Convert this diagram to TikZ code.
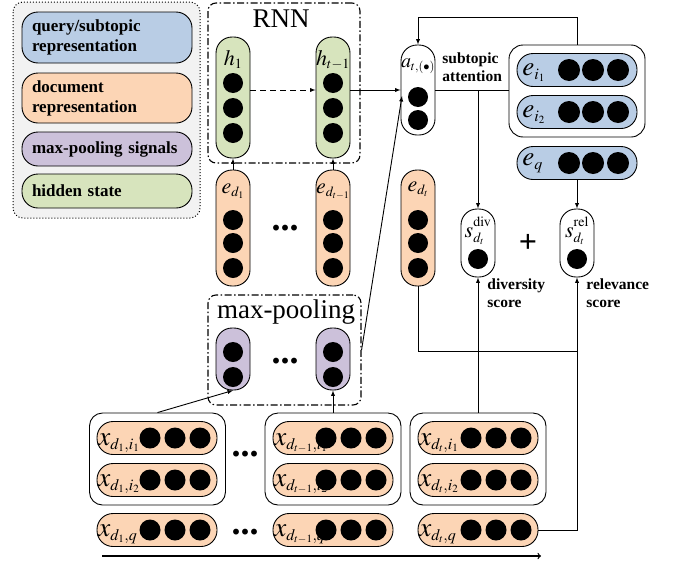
\documentclass[tikz,border=0pt]{standalone}
\usepackage{amsmath}
\usepackage{mathptmx}
\usepackage{fontspec}
\setmainfont{Liberation Serif}
\usepackage{tikz}
\DeclareMathSizes{27}{27}{16}{11}
\DeclareMathSizes{22}{22}{14}{10}
\DeclareMathSizes{20}{20}{12.5}{8.5}

\definecolor{qblue}{HTML}{B9CDE5}
\definecolor{dorange}{HTML}{FCD5B5}
\definecolor{mpurple}{HTML}{CCC1DA}
\definecolor{hgreen}{HTML}{D7E4BD}
\definecolor{keygray}{HTML}{F2F2F2}

\begin{document}
\begin{tikzpicture}[x=1pt, y=-1pt, line width=0.9pt, >=latex,
  vpill/.style={draw, rounded corners=16pt, minimum width=34pt, inner sep=0pt},
  hpill/.style={draw, fill=dorange, rounded corners=16pt, minimum width=120pt, minimum height=33pt, inner sep=0pt},
  grpbox/.style={draw, fill=white, rounded corners=13pt, minimum width=136pt, minimum height=92pt, inner sep=0pt},
  keybox/.style={draw, rounded corners=16pt, minimum width=170pt, text width=150pt, inner xsep=10pt, align=left, font=\fontsize{17}{20}\selectfont\bfseries},
  modbox/.style={draw, rounded corners=8pt, line width=1.1pt, inner sep=0pt, dash pattern=on 7pt off 2.5pt on 1.5pt off 2.5pt},
  vlab/.style={anchor=base, inner sep=0pt, font=\fontsize{22}{24}\selectfont},
  hlab/.style={anchor=base west, inner sep=0pt, font=\fontsize{27}{28}\selectfont},
  note/.style={anchor=north west, align=left, inner sep=0pt, font=\fontsize{15.5}{18.5}\selectfont\bfseries},
  dots/.style={anchor=base, inner sep=0pt, font=\fontsize{36}{36}\selectfont\bfseries}]

\useasboundingbox (0,0) rectangle (676,565);

\draw[dotted, line width=1pt, rounded corners=10pt, fill=keygray] (13,2) rectangle (200,218);
\node[keybox, fill=qblue, minimum height=51pt] (kq) at (107,37.5) {query/subtopic\\representation};
\node[keybox, fill=dorange, minimum height=50pt] (kd) at (107,98) {document\\representation};
\node[keybox, fill=mpurple, minimum height=34pt] (km) at (107,149) {max-pooling signals};
\node[keybox, fill=hgreen, minimum height=34pt] (kh) at (107,191) {hidden state};

\node[modbox, minimum width=152pt, minimum height=160pt] (rnn) at (284,83) {};
\node[anchor=base, inner sep=0pt, font=\fontsize{27}{28}\selectfont] (rnntxt) at (281,27) {RNN};
\node[modbox, minimum width=153pt, minimum height=110pt] (mp) at (284.5,350) {};
\node[anchor=base, inner sep=0pt, font=\fontsize{27}{28}\selectfont] (mptxt) at (286,318) {max-pooling};

\node[vpill, fill=hgreen, minimum height=121pt] (h1) at (233,97.5) {};
\node[vpill, fill=hgreen, minimum height=121pt] (ht) at (333,97.5) {};
\node[vlab] at (233,65) {$h_1$};
\node[vlab] at (333,65) {$h_{t-1}$};

\node[vpill, fill=dorange, minimum height=116pt] (ed1) at (233,228) {};
\node[vpill, fill=dorange, minimum height=116pt] (edp) at (333,228) {};
\node[vpill, fill=dorange, minimum height=116pt] (edt) at (418,228) {};
\node[vlab] at (233,193) {$e_{d_1}$};
\node[vlab] at (333,193) {$e_{d_{t-1}}$};
\node[vlab] at (418,191) {$e_{d_t}$};

\node[vpill, fill=mpurple, minimum height=62pt] (p1) at (233,359) {};
\node[vpill, fill=mpurple, minimum height=62pt] (p2) at (333,359) {};

\node[vpill, fill=white, minimum height=90pt] (att) at (418,90) {};
\node[vlab, font=\fontsize{20}{22}\selectfont] at (418,67) {$a_{t,(\bullet)}$};
\node[note] (atttxt) at (442,52) {subtopic\\attention};

\node[vpill, fill=white, minimum height=68pt] (sdiv) at (478,243) {};
\node[vpill, fill=white, minimum height=68pt] (srel) at (577,243) {};
\node[vlab] at (478,237) {$s^{\raisebox{3pt}{$\scriptstyle\mathrm{div}$}}_{d_t}$};
\node[vlab] at (577,237) {$s^{\raisebox{3pt}{$\scriptstyle\mathrm{rel}$}}_{d_t}$};
\node[note] (divtxt) at (487,278) {diversity\\score};
\node[note] (reltxt) at (586,278) {relevance\\score};
\node[anchor=center, inner sep=0pt, font=\fontsize{32}{32}\selectfont\bfseries] (plus) at (528,243) {+};

\node[grpbox, rounded corners=14pt] (egrp) at (577,91) {};
\node[hpill, fill=qblue] (ei1) at (577,70) {};
\node[hpill, fill=qblue] (ei2) at (577,112) {};
\node[hpill, fill=qblue] (eq) at (577,163) {};
\node[hlab] at (522,75) {$e_{i_1}$};
\node[hlab] at (522,117) {$e_{i_2}$};
\node[hlab] at (522,165) {$e_q$};

\node[grpbox] (g1) at (157.5,459) {};
\node[grpbox] (g2) at (333,459) {};
\node[grpbox] (g3) at (478,459) {};
\node[hpill] (x11) at (157,438) {};
\node[hpill] (x12) at (157,480) {};
\node[hpill] (x1q) at (157,530) {};
\node[hpill] (x21) at (333,438) {};
\node[hpill] (x22) at (333,480) {};
\node[hpill] (x2q) at (333,530) {};
\node[hpill] (x31) at (478,438) {};
\node[hpill] (x32) at (478,480) {};
\node[hpill] (x3q) at (478,530) {};
\node[hlab] at (98,445) {$x_{d_1,i_1}$};
\node[hlab] at (98,486) {$x_{d_1,i_2}$};
\node[hlab] at (98,536) {$x_{d_1,q}$};
\node[hlab] at (274,445) {$x_{d_{t-1},i_1}$};
\node[hlab] at (274,486) {$x_{d_{t-1},i_2}$};
\node[hlab] at (274,536) {$x_{d_{t-1},q}$};
\node[hlab] at (419,445) {$x_{d_t,i_1}$};
\node[hlab] at (419,486) {$x_{d_t,i_2}$};
\node[hlab] at (419,536) {$x_{d_t,q}$};

\node[dots] (dte) at (285,230) {...};
\node[dots] (dtp) at (285,363) {...};
\node[dots] (dti) at (245,456) {...};
\node[dots] (dtq) at (245,534) {...};

\foreach \x in {233,333} \foreach \y in {83,108,133} \fill (\x,\y) circle (10pt);
\foreach \x in {233,333,418} \foreach \y in {220,243,268} \fill (\x,\y) circle (10pt);
\foreach \x in {233,333} \foreach \y in {352,377} \fill (\x,\y) circle (10pt);
\foreach \y in {97,120} \fill (418,\y) circle (10pt);
\fill (478,259) circle (10pt);
\fill (577,259) circle (10pt);
\foreach \y in {70,112,163} \foreach \x in {569,593,618} \fill (\x,\y) circle (11pt);
\foreach \c in {157,333,478} \foreach \y in {438,480,530} \foreach \d in {-7,18,43} \fill (\c+\d,\y) circle (10.5pt);

\coordinate (attin) at (402,96);
\coordinate (join) at (577,351);
\coordinate (tstart) at (102,556);
\coordinate (tend) at (541,556);

\draw[->, dash pattern=on 6pt off 4pt] (h1.east |- att.west) -- (ht.west |- att.west);
\draw[->] (ed1) -- (h1);
\draw[->] (edp) -- (ht);
\draw[->] (ht.east |- att.west) -- (att.west);
\draw[->] (mp.east) -- (attin);
\draw[->] (egrp.north) -- ++(0,-27) -| (att.north);
\draw (att.east) -- (att.east -| egrp.west);
\draw[->] (sdiv.north |- att.east) -- (sdiv.north);
\draw[->] (eq) -- (srel);
\draw[->] (g3) -- (sdiv);
\draw (edt.south) |- (join);
\draw[->] (x3q.east) -| (srel.south);
\draw[->] (g1.north) -- (p1.south);
\draw[->] (g2) -- (p2);
\draw[-to, line width=1.3pt] (tstart) -- (tend);

\end{tikzpicture}
\end{document}
